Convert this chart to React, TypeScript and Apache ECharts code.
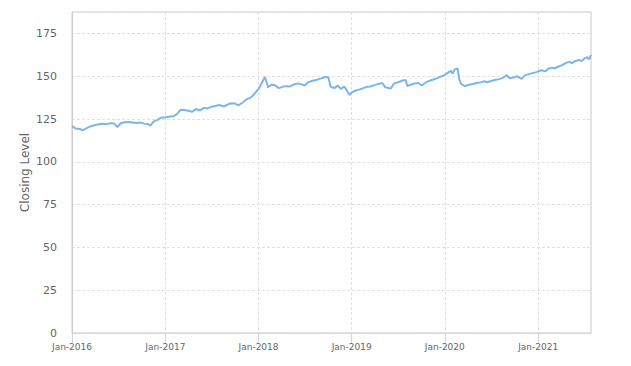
import React, { useEffect, useRef } from "react";
import * as echarts from "echarts";

const dates: string[] = [
  "2016-01-01", "2016-01-15", "2016-02-01", "2016-02-11", "2016-03-01", "2016-03-15",
  "2016-04-01", "2016-04-15", "2016-05-01", "2016-05-15", "2016-06-01", "2016-06-15",
  "2016-06-27", "2016-07-10", "2016-07-25", "2016-08-10", "2016-08-25", "2016-09-10",
  "2016-09-25", "2016-10-10", "2016-10-25", "2016-11-04", "2016-11-15", "2016-12-01",
  "2016-12-15",
  "2017-01-01", "2017-01-15", "2017-02-01", "2017-02-15", "2017-03-01", "2017-03-15",
  "2017-04-01", "2017-04-15", "2017-05-01", "2017-05-17", "2017-06-01", "2017-06-15",
  "2017-07-01", "2017-07-15", "2017-08-01", "2017-08-18", "2017-09-01", "2017-09-15",
  "2017-10-01", "2017-10-15", "2017-11-01", "2017-11-15", "2017-12-01", "2017-12-15",
  "2018-01-01", "2018-01-12", "2018-01-26", "2018-02-08", "2018-02-20", "2018-03-05",
  "2018-03-22", "2018-04-05", "2018-04-20", "2018-05-05", "2018-05-20", "2018-06-05",
  "2018-06-20", "2018-07-01", "2018-07-15", "2018-08-01", "2018-08-15", "2018-09-01",
  "2018-09-20", "2018-10-02", "2018-10-10", "2018-10-25", "2018-11-08", "2018-11-20",
  "2018-12-03", "2018-12-14", "2018-12-24",
  "2019-01-01", "2019-01-15", "2019-02-01", "2019-02-15", "2019-03-01", "2019-03-15",
  "2019-04-01", "2019-04-15", "2019-05-01", "2019-05-13", "2019-06-03", "2019-06-17",
  "2019-07-01", "2019-07-20", "2019-08-01", "2019-08-07", "2019-08-20", "2019-09-05",
  "2019-09-20", "2019-10-03", "2019-10-20", "2019-11-05", "2019-11-20", "2019-12-05",
  "2019-12-20",
  "2020-01-01", "2020-01-15", "2020-01-25", "2020-01-31", "2020-02-10", "2020-02-20",
  "2020-02-27", "2020-03-05", "2020-03-20", "2020-04-05", "2020-04-20", "2020-05-05",
  "2020-05-20", "2020-06-05", "2020-06-15", "2020-07-01", "2020-07-15", "2020-08-01",
  "2020-08-15", "2020-09-01", "2020-09-10", "2020-09-25", "2020-10-10", "2020-10-28",
  "2020-11-10", "2020-11-25", "2020-12-10", "2020-12-25",
  "2021-01-01", "2021-01-15", "2021-01-29", "2021-02-10", "2021-02-25", "2021-03-05",
  "2021-03-20", "2021-04-05", "2021-04-20", "2021-05-05", "2021-05-12", "2021-05-25",
  "2021-06-10", "2021-06-20", "2021-07-01", "2021-07-12", "2021-07-19", "2021-07-27",
];

const closingLevels: number[] = [
  120.8, 119.5, 119.2, 118.4, 119.8, 120.8,
  121.5, 121.9, 122.2, 122.0, 122.6, 122.3,
  120.3, 122.5, 123.1, 123.3, 123.0, 122.6,
  122.9, 122.3, 122.0, 121.2, 123.5, 124.5,
  125.8,
  126.0, 126.3, 126.6, 127.8, 130.4, 130.2,
  129.8, 129.2, 130.8, 130.0, 131.5, 131.2,
  132.2, 132.6, 133.2, 132.3, 133.4, 134.2,
  134.0, 133.0, 134.8, 136.5, 137.5, 139.5,
  142.5, 145.5, 149.5, 143.5, 145.0, 144.8,
  143.0, 143.8, 144.2, 144.0, 145.2, 145.8,
  145.2, 144.6, 146.5, 147.3, 147.8, 148.6,
  149.5, 149.3, 144.0, 143.0, 144.5, 142.5,
  144.0, 141.5, 139.0,
  140.5, 141.5, 142.3, 143.0, 143.8, 144.0,
  144.8, 145.5, 146.0, 143.5, 142.8, 145.8,
  146.5, 147.5, 147.8, 144.3, 145.0, 145.8,
  146.0, 144.6, 146.5, 147.5, 148.2, 149.0,
  150.0,
  150.8, 152.2, 153.2, 151.5, 154.0, 154.5,
  148.0, 145.5, 144.2, 145.0, 145.5, 146.0,
  146.4, 147.0, 146.5, 147.2, 147.8, 148.3,
  149.0, 150.6, 148.8, 149.2, 150.0, 148.4,
  150.5, 151.2, 151.8, 152.4,
  152.8, 153.5, 152.8, 154.5, 155.0, 154.5,
  155.5, 156.5, 157.8, 158.5, 157.5, 158.8,
  159.5, 158.8, 160.3, 161.2, 159.8, 162.5,
];

const yAxisTitle = "Closing Level";
const yMin = 0;
const yMax = 187.5;
const yStep = 25;
const xStart = "2016-01-01";
const xEnd = "2021-07-27";

export default function App() {
  const ref = useRef<HTMLDivElement>(null);
  useEffect(() => {
    if (!ref.current) return;
    const chart = echarts.init(ref.current, undefined, { renderer: "svg" });
    const font = "DejaVu Sans";
    const day = 24 * 3600 * 1000;
    chart.setOption({
      animation: false,
      textStyle: { fontFamily: font },
      grid: {
        left: 72,
        right: 40,
        top: 12,
        bottom: 33,
        show: true,
        borderColor: "#cccccc",
        borderWidth: 1,
        containLabel: false,
      },
      xAxis: {
        type: "time",
        min: new Date(xStart).getTime(),
        max: new Date(xEnd).getTime(),
        minInterval: 365 * day,
        maxInterval: 366 * day,
        axisLine: { lineStyle: { color: "#ccd6eb" } },
        axisTick: { show: true, length: 10, lineStyle: { color: "#ccd6eb" } },
        axisLabel: {
          color: "#666666",
          fontSize: 9,
          margin: 9,
          showMinLabel: true,
          hideOverlap: false,
          formatter: (v: number) => {
            const d = new Date(v);
            return "Jan-" + d.getFullYear();
          },
        },
        splitLine: {
          show: true,
          lineStyle: { color: "#e0e0e0", type: [3, 2] },
        },
      },
      yAxis: {
        type: "value",
        min: yMin,
        max: yMax,
        interval: yStep,
        name: yAxisTitle,
        nameLocation: "middle",
        nameGap: 41,
        nameMoveOverlap: false,
        nameTextStyle: { color: "#666666", fontSize: 12 },
        axisLine: { show: true, lineStyle: { color: "#cccccc" } },
        axisTick: { show: false },
        axisLabel: {
          color: "#666666",
          fontSize: 11,
          margin: 15,
          showMaxLabel: false,
        },
        splitLine: {
          show: true,
          lineStyle: { color: "#e0e0e0", type: [3, 2] },
        },
      },
      series: [
        {
          type: "line",
          data: dates.map((d, i) => [d, closingLevels[i]]),
          showSymbol: false,
          smooth: false,
          lineStyle: { color: "#7cb5ec", width: 2 },
          itemStyle: { color: "#7cb5ec" },
        },
      ],
    });
    return () => chart.dispose();
  }, []);
  return <div ref={ref} style={{ width: 631, height: 366, position: "absolute", left: 0, top: 0 }} />;
}
